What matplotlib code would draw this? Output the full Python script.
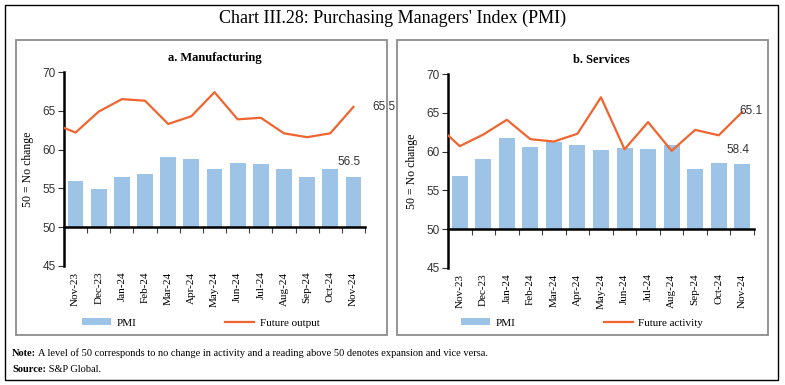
import numpy as np
import matplotlib.pyplot as plt
from matplotlib.patches import Rectangle, Patch
from matplotlib.lines import Line2D

# data
months = ['Nov-23', 'Dec-23', 'Jan-24', 'Feb-24', 'Mar-24', 'Apr-24', 'May-24',
          'Jun-24', 'Jul-24', 'Aug-24', 'Sep-24', 'Oct-24', 'Nov-24']

mfg_pmi = [56.0, 54.9, 56.5, 56.9, 59.1, 58.8, 57.5, 58.3, 58.1, 57.5, 56.5, 57.5, 56.5]
mfg_prev_future = 62.8   # value cut at the left edge of the axis
mfg_future = [62.2, 64.9, 66.5, 66.3, 63.3, 64.3, 67.4, 63.9, 64.1, 62.1, 61.6, 62.1, 65.5]

svc_pmi = [56.9, 59.0, 61.8, 60.6, 61.2, 60.9, 60.2, 60.5, 60.3, 60.9, 57.7, 58.5, 58.4]
svc_prev_future = 62.1
svc_future = [60.7, 62.2, 64.1, 61.6, 61.3, 62.3, 67.0, 60.3, 63.8, 60.1, 62.8, 62.1, 65.1]

BASE = 50  # "50 = No change" line the bars grow from

BAR_C = '#9DC3E6'
LINE_C = '#F0652F'
SERIF = 'Liberation Serif'
SANS = 'Liberation Sans'

fig = plt.figure(figsize=(7.85, 3.85), dpi=100)
W, H = 785.0, 385.0


def fx(px):
    return px / W


def fy(py):
    return 1 - py / H


# outer border and panel boxes
fig.patches.append(Rectangle((fx(5), fy(380)), fx(778 - 5), (380 - 5) / H,
                             transform=fig.transFigure, fill=False, ec='black', lw=1.0))
for x0, x1 in [(16, 387), (397, 768)]:
    fig.patches.append(Rectangle((fx(x0), fy(335)), fx(x1 - x0), (335 - 40) / H,
                                 transform=fig.transFigure, fill=False, ec='#8C8C8C', lw=1.3))

fig.text(0.5, fy(18), "Chart III.28: Purchasing Managers' Index (PMI)",
         ha='center', va='center', fontsize=13, family=SERIF)


def panel(rect, title, pmi, prev, fut, line_name, lab_bar, lab_line, panel_cx):
    ax = fig.add_axes(rect)
    x = np.arange(len(months))
    pmi = np.array(pmi)
    ax.bar(x, pmi - BASE, width=0.68, color=BAR_C, zorder=2, bottom=BASE)
    lx = np.r_[-0.5, x]
    ly = np.r_[prev, fut]
    ax.plot(lx, ly, color=LINE_C, lw=1.6, zorder=3)
    ax.set_xlim(-0.5, len(months) - 0.5)
    ax.set_ylim(45, 70)
    ax.set_yticks(np.arange(45, 71, 5))
    for s in ['top', 'right']:
        ax.spines[s].set_visible(False)
    ax.spines['left'].set_linewidth(1.8)
    ax.spines['bottom'].set_position(('data', BASE))
    ax.spines['bottom'].set_linewidth(1.8)
    ax.spines['bottom'].set_zorder(4)
    ax.set_xticks(x)
    ax.tick_params(axis='x', which='major', length=0, labelbottom=False)
    ax.set_xticks(np.arange(-0.5, len(months), 1), minor=True)
    ax.tick_params(axis='x', which='minor', length=4, width=0.8, color='#404040', direction='out')
    ax.tick_params(axis='y', length=4, width=0.8, labelsize=8.5, colors='#333333', pad=2)
    for t in ax.get_yticklabels():
        t.set_family(SANS)
    sec = ax.secondary_xaxis('bottom')
    sec.set_xticks(x)
    sec.set_xticklabels(months, rotation=90, family=SERIF, fontsize=8)
    sec.tick_params(length=0, pad=4)
    sec.spines['bottom'].set_visible(False)
    ax.set_ylabel('50 = No change', family=SERIF, fontsize=8.5, labelpad=6)
    ax.set_title(title, family=SERIF, fontsize=9, fontweight='bold', pad=8)
    ax.annotate(f'{fut[-1]:.1f}', (x[-1], fut[-1]), xytext=lab_line,
                textcoords='offset points', fontsize=8.5, family=SANS, color='#333333',
                va='center', ha='left')
    ax.annotate(f'{pmi[-1]:.1f}', (x[-1], pmi[-1]), xytext=lab_bar,
                textcoords='offset points', fontsize=8.5, family=SANS, color='#333333',
                va='bottom', ha='center')
    handles = [Patch(facecolor=BAR_C, edgecolor='none'),
               Line2D([], [], color=LINE_C, lw=1.6)]
    ax.legend(handles, ['PMI', line_name], loc='center', ncol=2,
              bbox_to_anchor=(fx(panel_cx), fy(323)), bbox_transform=fig.transFigure,
              frameon=False, prop={'family': SERIF, 'size': 8},
              columnspacing=8, handlelength=2.6, handleheight=0.5, handletextpad=0.5)
    return ax


panel([fx(64), fy(266), fx(365 - 64), (266 - 72) / H], 'a. Manufacturing',
      mfg_pmi, mfg_prev_future, mfg_future, 'Future output', (-3, 6), (14, 0), 201)
panel([fx(448), fy(268), fx(754 - 448), (268 - 74) / H], 'b. Services',
      svc_pmi, svc_prev_future, svc_future, 'Future activity', (-3, 6), (-2, 1), 582)

t1 = fig.text(fx(12), fy(353), 'Note:', family=SERIF, fontsize=7.5, fontweight='bold', va='center')
plt.annotate(' A level of 50 corresponds to no change in activity and a reading above 50 '
             'denotes expansion and vice versa.', xy=(1, 0.5), xycoords=t1,
             va='center', ha='left', family=SERIF, fontsize=7.5)
t2 = fig.text(fx(12), fy(369), 'Source:', family=SERIF, fontsize=7.5, fontweight='bold', va='center')
plt.annotate(' S&P Global.', xy=(1, 0.5), xycoords=t2, va='center', ha='left',
             family=SERIF, fontsize=7.5)

fig.savefig('out.png', dpi=100)
